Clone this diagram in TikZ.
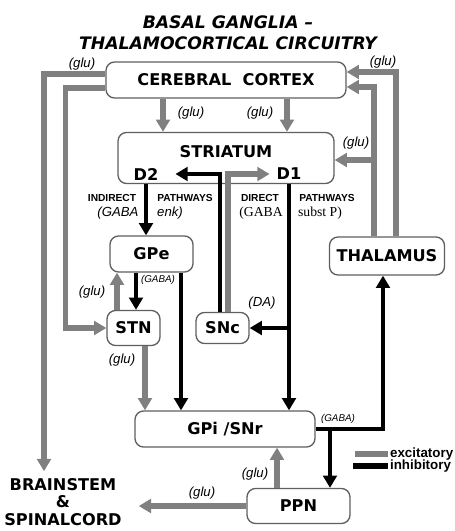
\documentclass[tikz,border=0pt]{standalone}
\usepackage{fontspec}
\setmainfont{Liberation Sans}
\newfontfamily\boxfont{DejaVu Sans}
\newfontfamily\serifpart{Liberation Serif}
\usepackage{tikz}
\usetikzlibrary{arrows.meta}
\usetikzlibrary{positioning,calc}
\definecolor{excgray}{RGB}{128,128,128}
\definecolor{edgegray}{RGB}{95,95,95}

\begin{document}
\begin{tikzpicture}[x=0.02cm,y=-0.02cm,
	blk/.style={draw=edgegray, line width=0.75pt, rounded corners=0.17cm, fill=white, inner sep=0pt, font=\boxfont\bfseries\fontsize{9.2}{11}\selectfont},
	txt/.style={inner sep=1pt, font=\boxfont\bfseries\fontsize{9.2}{11}\selectfont},
	exc/.style={draw=excgray, line width=3pt, -{Triangle[width=7.8pt,length=7pt]}},
	inh/.style={draw=black, line width=2.8pt, -{Triangle[width=7.8pt,length=7pt]}},
	glu/.style={inner sep=1pt, font=\fontsize{7.5}{8}\selectfont\itshape},
	gaba/.style={inner sep=1pt, font=\fontsize{5.6}{6}\selectfont\itshape},
	path/.style={inner sep=1pt, font=\fontsize{5.8}{6}\selectfont\bfseries}]
			\useasboundingbox (0,0) rectangle (454,531);
			\node[align=center, font=\boxfont\bfseries\itshape\fontsize{9.8}{12.2}\selectfont] (title) at (228,33) {BASAL GANGLIA –\\THALAMOCORTICAL CIRCUITRY};
			\node[blk, minimum width=4.8cm, minimum height=0.72cm] (ctx) at (226,80) {CEREBRAL\ \ CORTEX};
			\node[blk, minimum width=4.32cm, minimum height=1.02cm] (str) at (226,158) {};
			\node[txt] (strtxt) at (226,152) {STRIATUM};
			\node[txt] (d2) at (146,174) {D2};
			\node[txt] (d1) at (289,174) {D1};
			\node[blk, minimum width=1.66cm, minimum height=0.72cm] (gpe) at (151.5,254) {GPe};
			\node[blk, minimum width=2.3cm, minimum height=0.76cm] (thal) at (387,256) {THALAMUS};
			\node[blk, minimum width=1.06cm, minimum height=0.7cm] (stn) at (133.5,328) {STN};
			\node[blk, minimum width=1.06cm, minimum height=0.62cm] (snc) at (222.5,328) {SNc};
			\node[blk, minimum width=3.6cm, minimum height=0.72cm] (gpi) at (225,429) {GPi /SNr};
			\node[blk, minimum width=2.06cm, minimum height=0.7cm] (ppn) at (298.5,506) {PPN};
			\node[txt, align=center, font=\boxfont\bfseries\fontsize{9.2}{10}\selectfont] (bs) at (63,502) {BRAINSTEM\\\&\\SPINALCORD};

			\coordinate (ti) at ([xshift=-0.26cm]thal.north);
			\coordinate (to) at ([xshift=0.18cm]thal.north);
			\coordinate (sb) at ([xshift=-0.05cm]snc.north);
			\coordinate (sg) at ([xshift=0.11cm]snc.north);
			\coordinate (g1) at ([xshift=0.59cm]gpe.south);
			\coordinate (g2) at ([xshift=0.05cm]stn.north);
			\coordinate (s1) at ([xshift=-0.33cm]stn.north);
			\coordinate (s2) at ([xshift=0.23cm]stn.south);
			\coordinate (t1) at ([xshift=-0.08cm]thal.south);
			\coordinate (p1) at ([xshift=0.63cm]ppn.north);
			\coordinate (p2) at ([xshift=-0.43cm]ppn.north);

			\draw[exc] ([yshift=0.12cm]ctx.west) -| ([xshift=-0.38cm,yshift=0.1cm]bs.north);
			\draw[exc] ([yshift=-0.16cm]ctx.west) -| ($(stn.west)-(41,0)$) -- (stn.west);
			\draw[exc] ([xshift=-1.26cm]ctx.south) -- ([xshift=-1.26cm]str.north);
			\draw[exc] ([xshift=1.22cm]ctx.south) -- ([xshift=1.22cm]str.north);
			\draw[exc] (to) |- ([yshift=0.16cm]ctx.east);
			\draw[exc] (ti) |- ([yshift=-0.14cm]ctx.east);
			\draw[exc] ($(ti |- str.east)+(0,2)$) -- ($(str.east)+(0,2)$);
			\draw[exc] (sg) |- ([xshift=-0.1cm]d1.west);
			\draw[inh] (sb) |- ([xshift=0.3cm]d2.east);
			\draw[inh] (d2 |- str.south) -- (d2 |- gpe.north);
			\draw[inh] (d1 |- str.south) -- (d1 |- gpi.north);
			\draw[inh] (d1 |- snc.east) -- (snc.east);
			\draw[inh] (g1) -- (g1 |- gpi.north);
			\draw[inh] (g2 |- gpe.south) -- (g2);
			\draw[exc] (s1) -- (s1 |- gpe.south);
			\draw[exc] (s2) -- (s2 |- gpi.north);
			\draw[inh] (gpi.east) -| (t1);
			\draw[inh] (p1 |- gpi.east) -- (p1);
			\draw[exc] (p2) -- (p2 |- gpi.south);
			\draw[exc] (ppn.west) -- ([xshift=0.3cm]bs.east |- ppn.west);

			\node[glu] (l1) at (82,64) {(glu)};
			\node[glu] (l2) at (383,62) {(glu)};
			\node[glu] (l3) at (191,113) {(glu)};
			\node[glu] (l4) at (260,113) {(glu)};
			\node[glu] (l5) at (356,143) {(glu)};
			\node[glu] (l6) at (92,292) {(glu)};
			\node[gaba] (l7) at (158,280) {(GABA)};
			\node[glu] (l8) at (262,303) {(DA)};
			\node[glu] (l9) at (122,360) {(glu)};
			\node[gaba] (l10) at (338,419) {(GABA)};
			\node[glu] (l11) at (255,474) {(glu)};
			\node[glu] (l12) at (202,493) {(glu)};

			\node[path] (ind) at (112,198) {INDIRECT};
			\node[path] (pw1) at (185,198) {PATHWAYS};
			\node[glu] (ga1) at (118,213) {(GABA};
			\node[glu] (enk) at (170,213) {enk)};
			\node[path] (dir) at (260,198) {DIRECT};
			\node[path] (pw2) at (327,198) {PATHWAYS};
			\node[inner sep=1pt, font=\serifpart\fontsize{7.8}{8}\selectfont] (ga2) at (261,213) {(GABA};
			\node[inner sep=1pt, font=\serifpart\fontsize{7.8}{8}\selectfont] (sp) at (320,213) {subst P)};

			\node[anchor=west, inner sep=1pt, font=\fontsize{7.6}{8}\selectfont\bfseries] (ex) at (388,454) {excitatory};
			\node[anchor=west, inner sep=1pt, font=\fontsize{7.6}{8}\selectfont\bfseries] (ih) at (388,466) {inhibitory};
			\draw[excgray, line width=3pt] ([xshift=-0.66cm]ex.west) -- (ex.west);
			\draw[black, line width=3pt] ([xshift=-0.7cm]ih.west) -- (ih.west);
		\end{tikzpicture}
\end{document}
